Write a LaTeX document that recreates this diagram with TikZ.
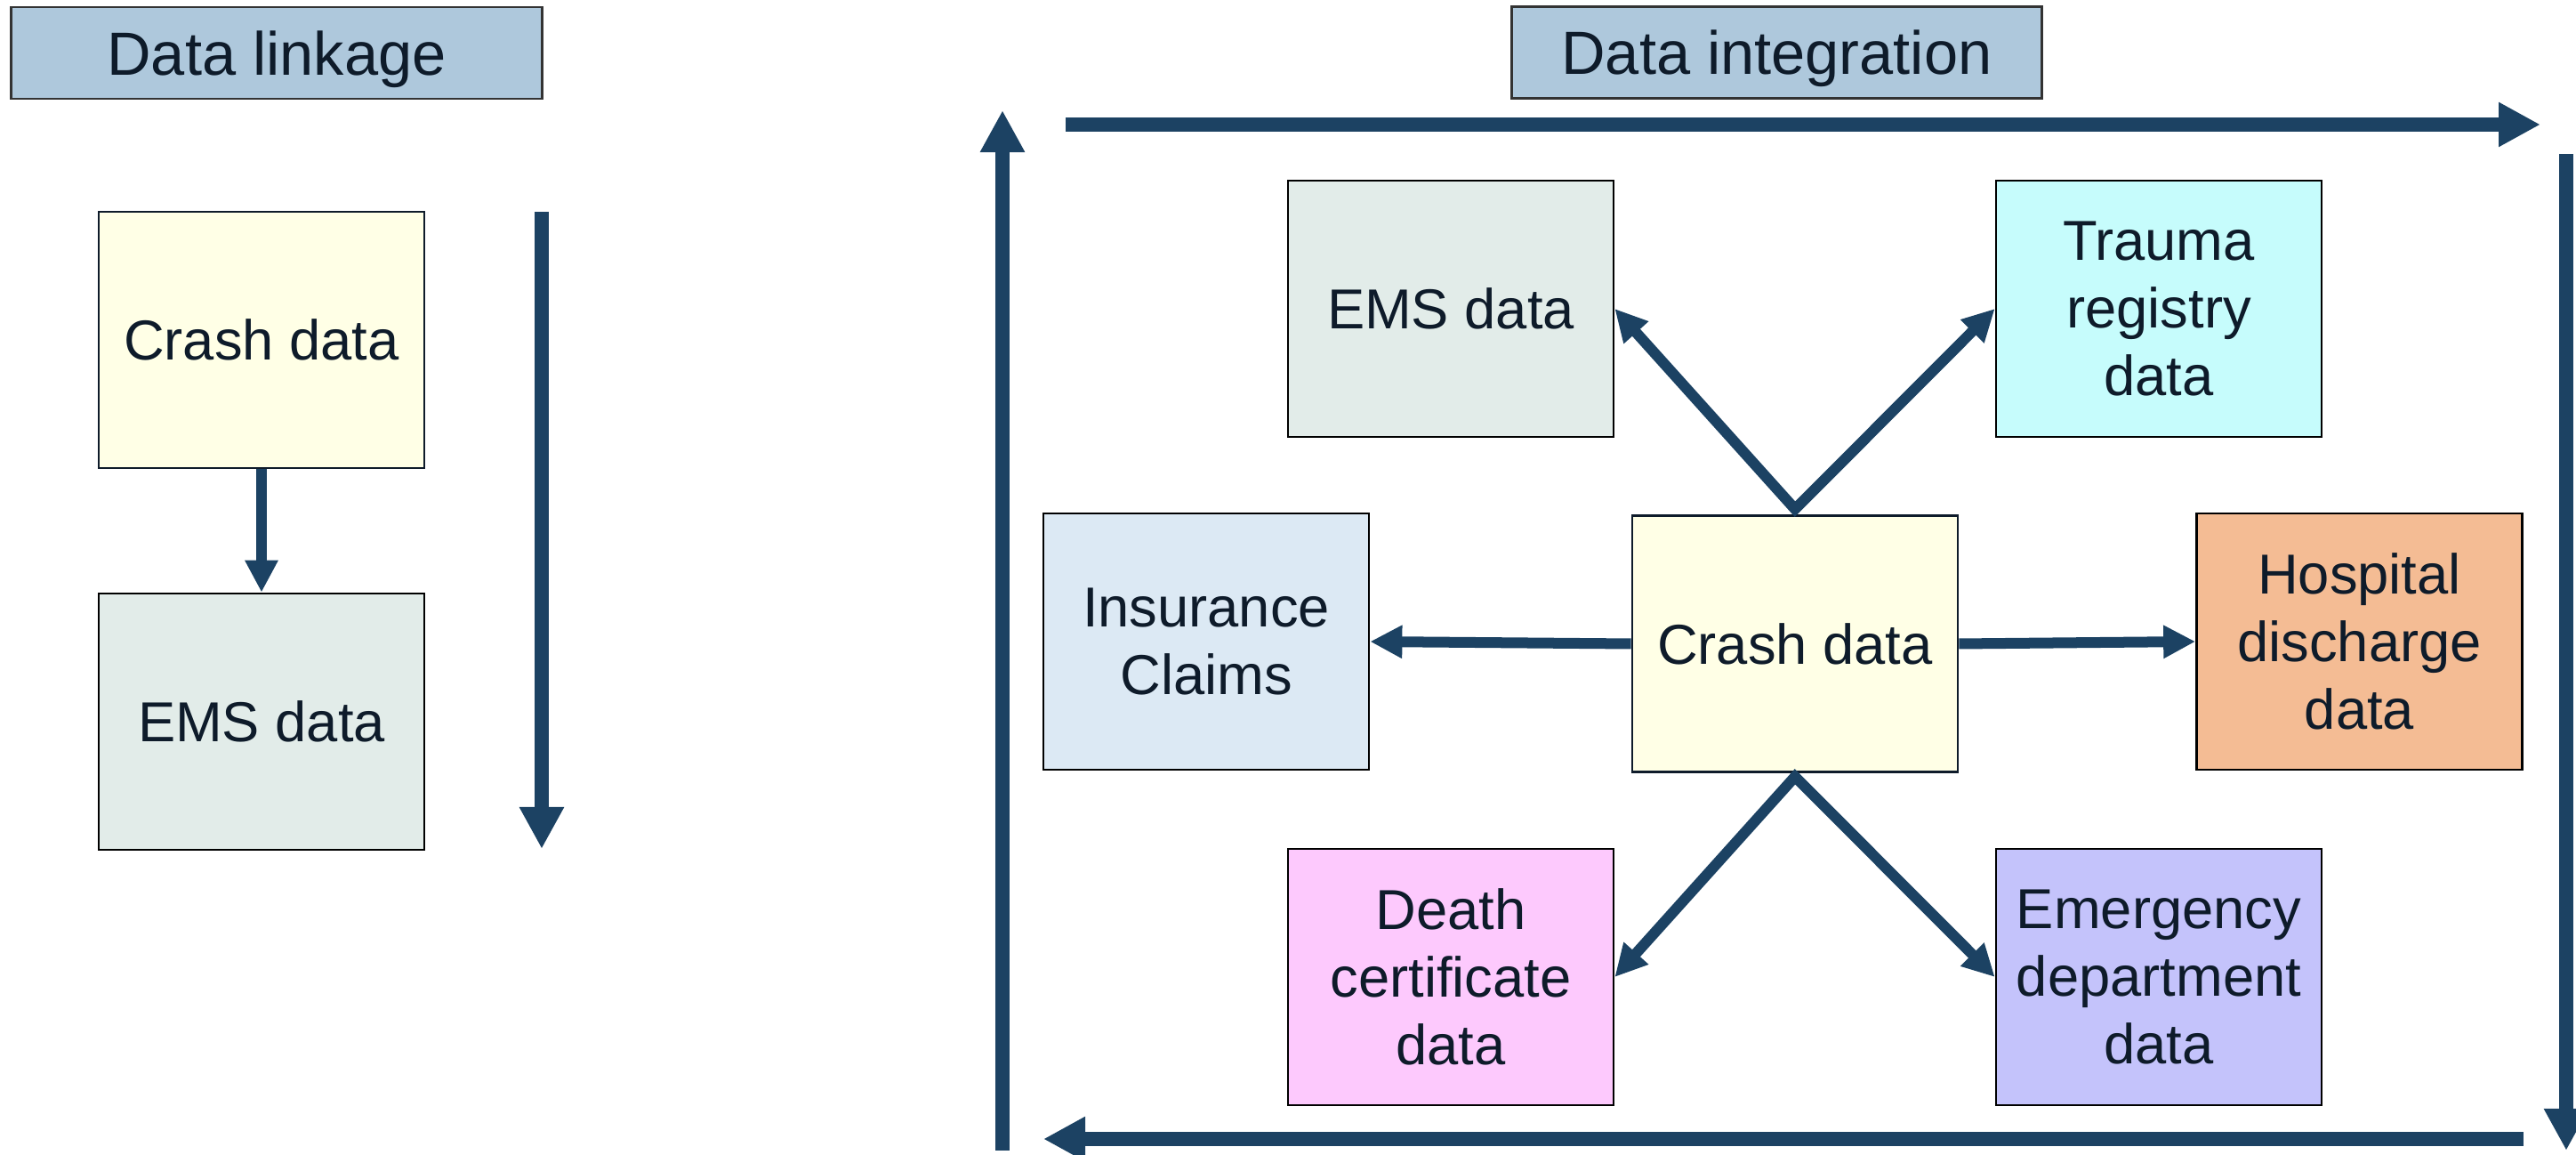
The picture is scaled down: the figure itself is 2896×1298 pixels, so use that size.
\documentclass[tikz,border=0pt]{standalone}
\usepackage{fontspec}
\setmainfont{Liberation Sans}
\usetikzlibrary{arrows.meta}

\definecolor{flowblue}{RGB}{28,66,99}
\definecolor{inktext}{RGB}{14,27,42}
\definecolor{titlefill}{RGB}{174,200,220}
\definecolor{crashfill}{RGB}{255,255,230}
\definecolor{emsfill}{RGB}{226,236,233}
\definecolor{traumafill}{RGB}{198,252,252}
\definecolor{insfill}{RGB}{220,233,244}
\definecolor{hospfill}{RGB}{244,188,148}
\definecolor{deathfill}{RGB}{253,201,253}
\definecolor{emergfill}{RGB}{196,195,251}

\tikzset{
  databox/.style={draw=black, line width=0.7pt, minimum width=3.66cm,
    minimum height=2.88cm, inner sep=0pt, align=center, text=inktext,
    font=\fontsize{18}{21.7}\selectfont},
  titlebox/.style={draw=black!80, line width=0.8pt, fill=titlefill,
    minimum height=1.03cm, inner sep=0pt, text=inktext, text depth=0pt,
    font=\fontsize{19.5}{22}\selectfont},
  bigflow/.style={draw=flowblue, line width=0.16cm,
    -{Triangle[width=0.47cm,length=0.47cm]}},
  linkflow/.style={draw=flowblue, line width=0.12cm, line join=miter,
    -{Triangle[width=0.35cm,length=0.36cm]}},
  twoflow/.style={draw=flowblue, line width=0.12cm, line join=miter,
    {Triangle[width=0.35cm,length=0.36cm]}-{Triangle[width=0.35cm,length=0.36cm]}}
}

\begin{document}
\begin{tikzpicture}[x=0.01cm, y=-0.01cm]
\useasboundingbox (0,0) rectangle (2896,1298);

% headings
\node[titlebox, minimum width=5.96cm] (tlink) at (311,59.5) {Data linkage};
\node[titlebox, minimum width=5.95cm] (tint) at (1997.5,59) {Data integration};

% linkage column
\node[databox, fill=crashfill, draw=inktext] (crashA) at (294,382) {Crash data};
\node[databox, fill=emsfill] (emsA) at (294,811) {EMS data};
\draw[linkflow] (crashA.south) -- (emsA.north);

\coordinate (linkS) at (609,238);
\coordinate (linkE) at (609,954);
\draw[bigflow] (linkS) -- (linkE);

% integration hub
\node[databox, fill=crashfill, draw=inktext] (crash) at (2018,723.5) {Crash data};
\node[databox, fill=emsfill] (ems) at (1631,347) {EMS data};
\node[databox, fill=traumafill] (trauma) at (2427,347) {Trauma\\registry\\data};
\node[databox, fill=insfill] (ins) at (1356,721) {Insurance\\Claims};
\node[databox, fill=hospfill] (hosp) at (2652.5,721) {Hospital\\discharge\\data};
\node[databox, fill=deathfill] (death) at (1631,1098) {Death\\certificate\\data};
\node[databox, fill=emergfill] (emerg) at (2427,1098) {Emergency\\department\\data};

\coordinate (apexT) at ([yshift=0.06cm]crash.north);
\coordinate (apexB) at ([yshift=-0.04cm]crash.south);

\draw[twoflow] (ems.east) -- (apexT) -- (trauma.west);
\draw[twoflow] (death.east) -- (apexB) -- (emerg.west);
\draw[linkflow] (crash.west) -- (ins.east);
\draw[linkflow] (crash.east) -- (hosp.west);

% surrounding cycle
\coordinate (topS) at (1198,140);
\coordinate (topE) at (2856,140);
\coordinate (rightS) at (2885,173);
\coordinate (rightE) at (2885,1293);
\coordinate (botS) at (2837,1280);
\coordinate (botE) at (1173,1280);
\coordinate (leftS) at (1127,1293);
\coordinate (leftE) at (1127,124);
\draw[bigflow] (topS) -- (topE);
\draw[bigflow] (rightS) -- (rightE);
\draw[bigflow] (botS) -- (botE);
\draw[bigflow] (leftS) -- (leftE);
\end{tikzpicture}
\end{document}
